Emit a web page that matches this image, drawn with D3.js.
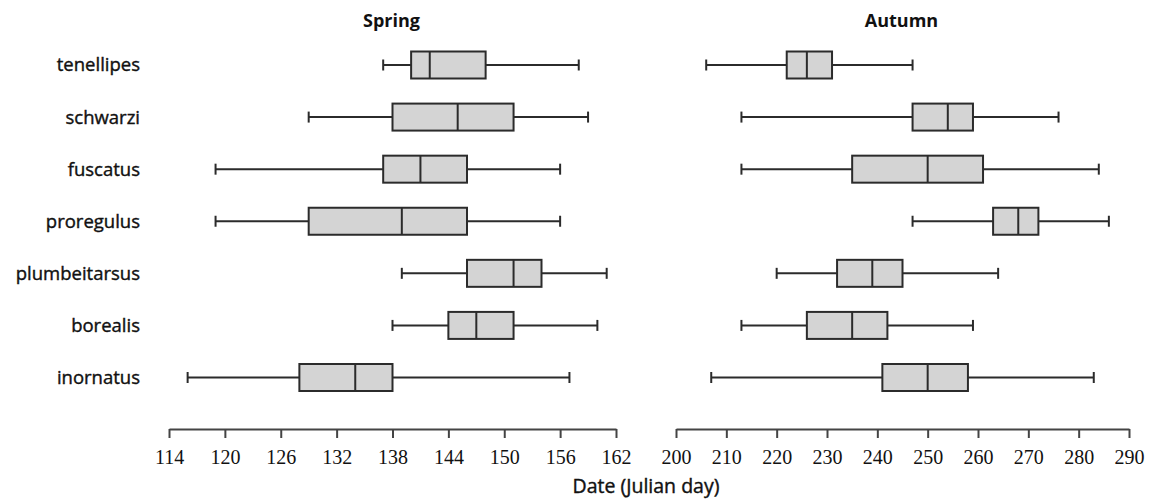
<!DOCTYPE html>
<html lang="en">
<head>
<meta charset="utf-8">
<title>Spring / Autumn passage dates</title>
<script src="https://cdn.jsdelivr.net/npm/d3@7"></script>
<style>
  body { margin: 0; background: #fff; }
  svg text { fill: #111; }
</style>
</head>
<body>
<script>
// species, top to bottom
var species = ["tenellipes", "schwarzi", "fuscatus", "proregulus", "plumbeitarsus", "borealis", "inornatus"];

// [low whisker, Q1, median, Q3, high whisker]
var springStats = [
  [137, 140, 142, 148, 158],
  [129, 138, 145, 151, 159],
  [119, 137, 141, 146, 156],
  [119, 129, 139, 146, 156],
  [139, 146, 151, 154, 161],
  [138, 144, 147, 151, 160],
  [116, 128, 134, 138, 157]
];
var autumnStats = [
  [206, 222, 226, 231, 247],
  [213, 247, 254, 259, 276],
  [213, 235, 250, 261, 284],
  [247, 263, 268, 272, 286],
  [220, 232, 239, 245, 264],
  [213, 226, 235, 242, 259],
  [207, 241, 250, 258, 283]
];

var springTicks = [114, 120, 126, 132, 138, 144, 150, 156, 162];
var autumnTicks = [200, 210, 220, 230, 240, 250, 260, 270, 280, 290];

var W = 1149, H = 499;
var axisY = 429;
var boxH = 27, capH = 11;
var ink = "#2b2b2b";

var svg = d3.select("body").append("svg")
    .attr("width", W)
    .attr("height", H);

var y = d3.scalePoint()
    .domain(species)
    .range([65, 377.5]);

// species labels
svg.append("g").selectAll("text")
    .data(species)
    .enter()
    .append("text")
    .attr("x", 140)
    .attr("y", function(d) { return y(d); })
    .attr("dy", "0.35em")
    .attr("text-anchor", "end")
    .style("font-family", "'Open Sans', sans-serif")
    .style("font-size", "18.5px")
    .style("stroke", "#111")
    .style("stroke-width", "0.4px")
    .text(function(d) { return d; });

function drawPanel(stats, ticks, range, title) {
  var x = d3.scaleLinear()
      .domain([ticks[0], ticks[ticks.length - 1]])
      .range(range);

  var g = svg.append("g");

  g.append("text")
      .attr("x", (range[0] + range[1]) / 2 - 1)
      .attr("y", 27)
      .attr("text-anchor", "middle")
      .style("font-family", "'Open Sans', sans-serif")
      .style("font-weight", "bold")
      .style("font-size", "18px")
      .text(title);

  var rows = g.selectAll("g.row")
      .data(stats)
      .enter()
      .append("g")
      .attr("class", "row")
      .attr("transform", function(d, i) { return "translate(0," + y(species[i]) + ")"; });

  // whisker lines
  rows.append("line")
      .attr("x1", function(d) { return x(d[0]); })
      .attr("x2", function(d) { return x(d[1]); })
      .attr("stroke", ink).attr("stroke-width", 2);
  rows.append("line")
      .attr("x1", function(d) { return x(d[3]); })
      .attr("x2", function(d) { return x(d[4]); })
      .attr("stroke", ink).attr("stroke-width", 2);

  // caps
  [0, 4].forEach(function(k) {
    rows.append("line")
        .attr("x1", function(d) { return x(d[k]); })
        .attr("x2", function(d) { return x(d[k]); })
        .attr("y1", -capH / 2).attr("y2", capH / 2)
        .attr("stroke", ink).attr("stroke-width", 2);
  });

  // box
  rows.append("rect")
      .attr("x", function(d) { return x(d[1]); })
      .attr("y", -boxH / 2)
      .attr("width", function(d) { return x(d[3]) - x(d[1]); })
      .attr("height", boxH)
      .attr("fill", "#d4d4d4")
      .attr("stroke", ink).attr("stroke-width", 2);

  // median
  rows.append("line")
      .attr("x1", function(d) { return x(d[2]); })
      .attr("x2", function(d) { return x(d[2]); })
      .attr("y1", -boxH / 2).attr("y2", boxH / 2)
      .attr("stroke", ink).attr("stroke-width", 2);

  var axis = g.append("g")
      .attr("transform", "translate(0," + axisY + ")")
      .call(d3.axisBottom(x).tickValues(ticks).tickSize(9).tickSizeOuter(0).tickPadding(12));

  axis.select(".domain").attr("stroke", "#444").attr("stroke-width", 2);
  axis.selectAll(".tick line").attr("stroke", "#444").attr("stroke-width", 2);
  axis.selectAll(".tick text")
      .style("font-family", "'Liberation Serif', serif")
      .style("font-size", "20px")
      .attr("fill", "#111");
}

drawPanel(springStats, springTicks, [169, 616], "Spring");
drawPanel(autumnStats, autumnTicks, [676, 1129], "Autumn");

svg.append("text")
    .attr("x", 646)
    .attr("y", 493)
    .attr("text-anchor", "middle")
    .style("font-family", "'Open Sans', sans-serif")
    .style("font-size", "19.5px")
    .style("stroke", "#111")
    .style("stroke-width", "0.4px")
    .text("Date (Julian day)");
</script>
</body>
</html>
